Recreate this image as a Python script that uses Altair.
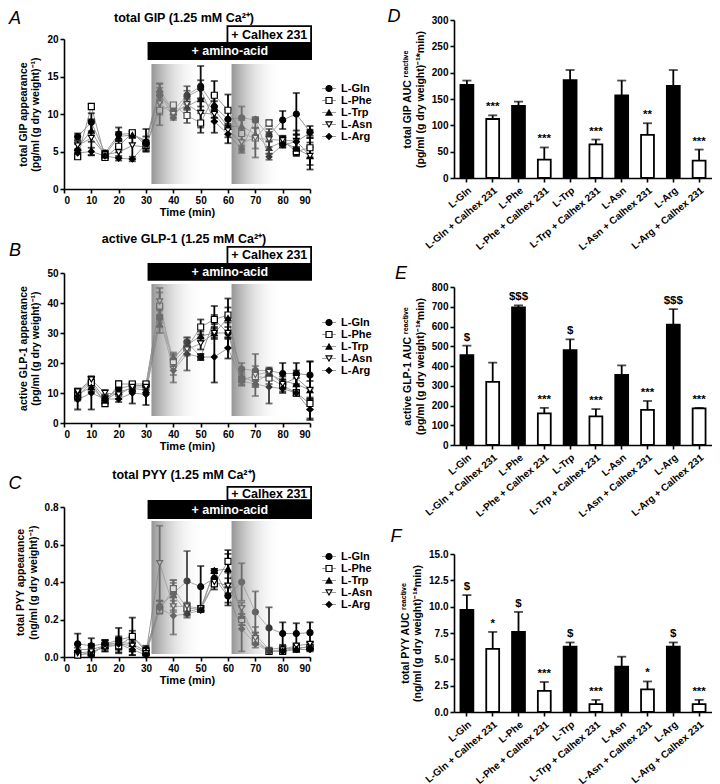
import altair as alt
import pandas as pd

FONT = "Liberation Sans"

TIME = [5, 10, 15, 20, 25, 30, 35, 40, 45, 50, 55, 60, 65, 70, 75, 80, 85, 90]
SERIES = ["L-Gln", "L-Phe", "L-Trp", "L-Asn", "L-Arg"]
SHAPES = ["circle", "square", "triangle-up", "triangle-down", "diamond"]
FILLS = ["black", "white", "black", "white", "black"]
SIZES = [36, 34, 24, 32, 36]

# treatment periods (min)
AMINO_START, CALHEX_START, PERIOD_END = 30.9, 59.8, 90.4
SHADE_START = [32.0, 61.3]
SHADE_END = [61.3, 90.0]

# ---- A: total GIP (pg/ml (g dry weight)^-1) ----
gip_gln = [7.0, 8.9, 4.8, 7.3, 7.4, 6.2, 12.5, 10.5, 12.5, 13.7, 11.0, 9.3, 9.5, 9.2, 7.2, 9.2, 10.0, 7.6]
gip_gln_sem = [0.4, 1.2, 0.3, 0.9, 0.3, 0.8, 1.0, 0.4, 1.2, 2.7, 1.5, 1.3, 1.5, 0.3, 0.8, 1.2, 2.8, 0.8]
gip_phe = [4.3, 11.0, 4.2, 5.7, 7.5, 5.8, 10.5, 11.2, 9.8, 8.8, 12.5, 10.5, 7.4, 6.8, 8.8, 6.4, 5.0, 5.5]
gip_phe_sem = [0.3, 0.4, 0.3, 0.8, 0.3, 0.6, 2.0, 0.3, 1.0, 1.3, 1.9, 2.1, 1.8, 2.6, 0.4, 0.6, 0.6, 1.3]
gip_trp = [5.5, 7.8, 4.5, 7.0, 7.2, 6.5, 13.3, 10.3, 11.0, 12.0, 10.6, 8.3, 8.4, 7.3, 5.5, 6.3, 5.4, 4.4]
gip_trp_sem = [0.5, 1.5, 0.3, 0.6, 0.4, 1.5, 0.8, 0.4, 0.9, 1.5, 1.1, 1.0, 1.2, 0.8, 0.8, 0.7, 0.9, 1.8]
gip_asn = [5.8, 6.8, 4.6, 4.9, 5.8, 5.6, 11.4, 10.0, 11.3, 10.1, 10.0, 7.8, 6.2, 6.8, 6.6, 6.5, 6.4, 4.4]
gip_asn_sem = [0.6, 2.3, 0.4, 0.7, 1.8, 0.6, 1.5, 0.5, 0.8, 1.9, 1.0, 0.9, 1.2, 1.4, 1.0, 0.6, 0.9, 1.2]
gip_arg = [4.8, 5.0, 4.4, 4.1, 4.0, 6.0, 13.0, 9.5, 12.3, 13.3, 9.0, 7.3, 5.3, 9.3, 4.3, 5.9, 6.3, 7.5]
gip_arg_sem = [0.5, 0.5, 0.3, 0.3, 0.3, 0.5, 1.0, 0.3, 0.8, 1.2, 1.5, 1.2, 0.5, 0.3, 0.4, 0.4, 1.5, 0.4]

# ---- B: active GLP-1 ----
glp_gln = [10, 14, 8, 11.5, 12.5, 12.5, 35, 21, 27, 22, 34.5, 30, 18, 17.5, 17.5, 16.5, 16.5, 16]
glp_gln_sem = [1, 1.2, 1.5, 1.5, 1, 1, 3, 2, 1.5, 1, 4.5, 5, 2, 1.5, 1, 3.5, 3.5, 4.5]
glp_phe = [9, 13.5, 6.5, 13, 13, 13, 39, 20.5, 25, 32, 34.5, 36, 14.5, 15.5, 15, 12.5, 10, 6.5]
glp_phe_sem = [1.5, 1.5, 1, 1, 0.8, 0.8, 4.5, 2, 2, 2.5, 1.5, 2.5, 2, 1.5, 2, 2, 1, 2]
glp_trp = [9.5, 12, 7.5, 10.5, 11.5, 11, 33, 22, 26, 29, 30, 35, 15.5, 13.5, 16.5, 14, 13, 11]
glp_trp_sem = [1, 1.5, 1, 1, 1, 1, 3, 1.5, 1.5, 1.5, 2, 6.5, 1.5, 1.5, 1, 1.5, 2, 3]
glp_asn = [10.5, 14.5, 10, 9.5, 12, 12, 40.5, 18, 24.5, 26.5, 30, 30, 14, 16, 17, 13, 15, 11]
glp_asn_sem = [1, 1, 1, 1.5, 1, 1, 4.5, 2, 2, 2, 1.5, 2, 1.5, 7, 1, 1.5, 2.5, 9.5]
glp_arg = [7.8, 10, 8, 8, 10, 9.5, 35.5, 17.5, 23, 22, 22, 25, 14, 13, 12, 11.5, 10, 4.5]
glp_arg_sem = [3.3, 5.5, 1, 1, 3.5, 3.5, 2, 4, 5.5, 1, 8.5, 3.5, 1, 1, 5.5, 1.5, 0.8, 3.5]

# ---- C: total PYY ----
pyy_gln = [0.07, 0.06, 0.07, 0.09, 0.11, 0.04, 0.27, 0.34, 0.405, 0.375, 0.42, 0.325, 0.40, 0.24, 0.155, 0.125, 0.125, 0.13]
pyy_gln_sem = [0.055, 0.04, 0.02, 0.065, 0.1, 0.02, 0.03, 0.07, 0.16, 0.11, 0.04, 0.05, 0.1, 0.11, 0.11, 0.06, 0.055, 0.055]
pyy_phe = [0.01, 0.02, 0.06, 0.06, 0.11, 0.03, 0.25, 0.365, 0.26, 0.255, 0.39, 0.51, 0.20, 0.085, 0.03, 0.03, 0.05, 0.05]
pyy_phe_sem = [0.01, 0.01, 0.03, 0.04, 0.03, 0.02, 0.02, 0.03, 0.02, 0.01, 0.03, 0.06, 0.03, 0.02, 0.01, 0.01, 0.01, 0.01]
pyy_trp = [0.04, 0.04, 0.06, 0.08, 0.07, 0.03, 0.28, 0.33, 0.24, 0.26, 0.46, 0.47, 0.22, 0.12, 0.04, 0.05, 0.04, 0.06]
pyy_trp_sem = [0.03, 0.03, 0.02, 0.03, 0.04, 0.02, 0.02, 0.08, 0.02, 0.01, 0.01, 0.08, 0.05, 0.04, 0.01, 0.01, 0.01, 0.02]
pyy_asn = [0.02, 0.03, 0.05, 0.07, 0.06, 0.02, 0.5, 0.27, 0.27, 0.26, 0.40, 0.38, 0.26, 0.10, 0.03, 0.04, 0.06, 0.07]
pyy_asn_sem = [0.01, 0.02, 0.02, 0.03, 0.03, 0.01, 0.2, 0.03, 0.02, 0.01, 0.02, 0.04, 0.03, 0.03, 0.01, 0.01, 0.01, 0.01]
pyy_arg = [0.03, 0.01, 0.07, 0.07, 0.04, 0.01, 0.26, 0.22, 0.23, 0.25, 0.46, 0.33, 0.15, 0.07, 0.03, 0.03, 0.04, 0.04]
pyy_arg_sem = [0.02, 0.01, 0.02, 0.03, 0.03, 0.01, 0.01, 0.1, 0.02, 0.01, 0.01, 0.04, 0.12, 0.02, 0.01, 0.01, 0.01, 0.01]

# ---- AUC bar panels ----
LABELS = ["L-Gln", "L-Gln + Calhex 231", "L-Phe", "L-Phe + Calhex 231", "L-Trp",
          "L-Trp + Calhex 231", "L-Asn", "L-Asn + Calhex 231", "L-Arg", "L-Arg + Calhex 231"]
gip_auc = [177, 112, 137, 35, 186, 64, 157, 82, 175, 33]
gip_auc_sem = [8, 7, 8, 23, 19, 9, 28, 22, 30, 21]
gip_sig = ["", "***", "", "***", "", "***", "", "**", "", "***"]
glp_auc = [455, 320, 697, 160, 480, 145, 355, 178, 610, 185]
glp_auc_sem = [48, 97, 10, 28, 55, 37, 48, 45, 78, 3]
glp_sig = ["$", "", "$$$", "***", "$", "***", "", "***", "$$$", "***"]
pyy_auc = [9.7, 6.0, 7.6, 2.0, 6.2, 0.75, 4.3, 2.15, 6.2, 0.75]
pyy_auc_sem = [1.4, 1.6, 1.9, 0.85, 0.4, 0.4, 0.95, 0.75, 0.4, 0.4]
pyy_sig = ["$", "*", "$", "***", "$", "***", "", "*", "$", "***"]

LW, LH = 246, 150
BW, BH = 258, 158

SHADE_FILL = {
    "gradient": "linear", "x1": 0, "y1": 0, "x2": 1, "y2": 0,
    "stops": [
        {"offset": 0, "color": "rgba(125,125,125,0.82)"},
        {"offset": 0.3, "color": "rgba(200,200,200,0.5)"},
        {"offset": 0.65, "color": "rgba(255,255,255,0)"},
    ],
}


def line_panel(letter, title, ymax, ystep, yfmt, ytitle, means, sems,
               calhex_y, amino_y, shade_y, letter_y, title_y):
    rows = []
    for s, m, e in zip(SERIES, means, sems):
        for t, mv, ev in zip(TIME, m, e):
            rows.append({"series": s, "t": t, "mean": mv, "lo": mv - ev, "hi": mv + ev})
    df = pd.DataFrame(rows)

    xs = alt.Scale(domain=[0, 90], nice=False)
    ys = alt.Scale(domain=[0, ymax], nice=False)
    xax = alt.Axis(values=list(range(0, 91, 10)), title="Time (min)", format="d",
                   titleFontSize=11, titlePadding=1)
    nt = round(ymax / ystep)
    yax = alt.Axis(values=[round(i * ystep, 4) for i in range(nt + 1)], format=yfmt,
                   title=ytitle, titlePadding=6)

    def X(f):
        return alt.X(f, type="quantitative", scale=xs, axis=xax)

    def Y(f):
        return alt.Y(f, type="quantitative", scale=ys, axis=yax)

    shape = alt.Shape("series:N", scale=alt.Scale(domain=SERIES, range=SHAPES), legend=None)
    fill = alt.Color("series:N", scale=alt.Scale(domain=SERIES, range=FILLS), legend=None)
    size = alt.Size("series:N", scale=alt.Scale(domain=SERIES, range=SIZES), legend=None)

    base = alt.Chart(df)
    lines = base.mark_line(color="#9a9a9a", strokeWidth=1).encode(
        x=X("t"), y=Y("mean"), detail="series:N")
    err = base.mark_rule(color="black", strokeWidth=1.8).encode(
        x=X("t"), y=Y("lo"), y2="hi")
    cap_lo = base.mark_tick(color="black", thickness=1.8, size=7, orient="horizontal").encode(
        x=X("t"), y=Y("lo"))
    cap_hi = base.mark_tick(color="black", thickness=1.8, size=7, orient="horizontal").encode(
        x=X("t"), y=Y("hi"))
    pts = base.mark_point(filled=True, stroke="black", strokeWidth=1.2, opacity=1).encode(
        x=X("t"), y=Y("mean"), shape=shape, color=fill, size=size)

    shade_df = pd.DataFrame({"x": SHADE_START, "x2": SHADE_END,
                             "y": [shade_y[0]] * 2, "y2": [shade_y[1]] * 2})
    shade = alt.Chart(shade_df).mark_rect(fill=SHADE_FILL, strokeWidth=0).encode(
        x=X("x"), x2="x2", y=Y("y"), y2="y2")

    calhex_df = pd.DataFrame({"x": [CALHEX_START], "x2": [PERIOD_END],
                              "y": [calhex_y[0]], "y2": [calhex_y[1]],
                              "xm": [(CALHEX_START + PERIOD_END) / 2], "ym": [sum(calhex_y) / 2],
                              "label": ["+ Calhex 231"]})
    amino_df = pd.DataFrame({"x": [AMINO_START], "x2": [PERIOD_END],
                             "y": [amino_y[0]], "y2": [amino_y[1]],
                             "xm": [(AMINO_START + PERIOD_END) / 2], "ym": [sum(amino_y) / 2],
                             "label": ["+ amino-acid"]})
    calhex_box = alt.Chart(calhex_df).mark_rect(fill="white", stroke="black", strokeWidth=1.8).encode(
        x=X("x"), x2="x2", y=Y("y"), y2="y2")
    calhex_txt = alt.Chart(calhex_df).mark_text(font=FONT, fontWeight="bold", fontSize=12.5,
                                                baseline="middle", color="black").encode(
        x=X("xm"), y=Y("ym"), text="label:N")
    amino_box = alt.Chart(amino_df).mark_rect(fill="black", stroke="black", strokeWidth=1.8).encode(
        x=X("x"), x2="x2", y=Y("y"), y2="y2")
    amino_txt = alt.Chart(amino_df).mark_text(font=FONT, fontWeight="bold", fontSize=12.5,
                                              baseline="middle", color="white").encode(
        x=X("xm"), y=Y("ym"), text="label:N")

    leg_df = pd.DataFrame({
        "series": SERIES,
        "y": [ymax * (1 - (49.5 + 12 * i) / LH) for i in range(len(SERIES))],
        "xl1": [90 * 258 / LW] * 5, "xl2": [90 * 272 / LW] * 5,
        "xm": [90 * 265 / LW] * 5, "xt": [90 * 277 / LW] * 5})
    leg_line = alt.Chart(leg_df).mark_rule(color="#9a9a9a", strokeWidth=1).encode(
        x=X("xl1"), x2="xl2", y=Y("y"))
    leg_pts = alt.Chart(leg_df).mark_point(filled=True, stroke="black", strokeWidth=1.2, opacity=1).encode(
        x=X("xm"), y=Y("y"), shape=shape, color=fill, size=size)
    leg_txt = alt.Chart(leg_df).mark_text(font=FONT, fontWeight="bold", fontSize=11, align="left",
                                          baseline="middle", color="black").encode(
        x=X("xt"), y=Y("y"), text="series:N")

    ann = pd.DataFrame({"a": [0]})
    title_mark = alt.Chart(ann).mark_text(text=title, font=FONT, fontWeight="bold", fontSize=12.5,
                                          color="black", baseline="middle").encode(
        x=alt.value(120), y=alt.value(title_y))
    letter_mark = alt.Chart(ann).mark_text(text=letter, font=FONT, fontStyle="italic", fontSize=18,
                                           color="black", baseline="middle").encode(
        x=alt.value(-49), y=alt.value(letter_y))

    return alt.layer(lines, err, cap_lo, cap_hi, pts, shade, calhex_box, calhex_txt,
                     amino_box, amino_txt, leg_line, leg_pts, leg_txt,
                     title_mark, letter_mark).properties(width=LW, height=LH)


def bar_panel(letter, vals, sems, sigs, ymax, ystep, yfmt, ytitle, letter_xy):
    df = pd.DataFrame({"label": LABELS, "v": vals,
                       "hi": [v + e for v, e in zip(vals, sems)], "sig": sigs,
                       "kind": ["cx" if "Calhex" in l else "aa" for l in LABELS]})
    xs = alt.Scale(domain=LABELS, paddingInner=0.5, paddingOuter=0.25)
    ys = alt.Scale(domain=[0, ymax], nice=False)
    nt = round(ymax / ystep)
    xax = alt.Axis(title=None, labelAngle=320, labelFontSize=10, labelPadding=3, tickSize=4)
    yax = alt.Axis(values=[round(i * ystep, 4) for i in range(nt + 1)], format=yfmt,
                   title=ytitle, titlePadding=6)

    def X():
        return alt.X("label:N", sort=LABELS, scale=xs, axis=xax)

    def Y(f):
        return alt.Y(f, type="quantitative", scale=ys, axis=yax)

    base = alt.Chart(df)
    bars = base.mark_bar(stroke="black", strokeWidth=1.8).encode(
        x=X(), y=Y("v"),
        color=alt.Color("kind:N", scale=alt.Scale(domain=["aa", "cx"], range=["black", "white"]), legend=None))
    err = base.mark_rule(color="black", strokeWidth=1.8).encode(x=X(), y=Y("v"), y2="hi")
    cap = base.mark_tick(color="black", thickness=1.8, size=9).encode(x=X(), y=Y("hi"))
    sig = base.mark_text(font=FONT, fontWeight="bold", fontSize=11.5, baseline="bottom",
                         dy=-3, color="black").encode(x=X(), y=Y("hi"), text="sig:N")
    ann = pd.DataFrame({"a": [0]})
    letter_mark = alt.Chart(ann).mark_text(text=letter, font=FONT, fontStyle="italic", fontSize=18,
                                           color="black", baseline="middle").encode(
        x=alt.value(letter_xy[0]), y=alt.value(letter_xy[1]))
    return alt.layer(bars, err, cap, sig, letter_mark).properties(width=BW, height=BH)


A = line_panel("A", "total  GIP (1.25 mM Ca²⁺)", 20, 5, "d",
               ["total GIP appearance", "(pg/ml (g dry weight)⁻¹)"],
               [gip_gln, gip_phe, gip_trp, gip_asn, gip_arg],
               [gip_gln_sem, gip_phe_sem, gip_trp_sem, gip_asn_sem, gip_arg_sem],
               (21.73, 19.47), (19.47, 17.33), (16.67, 0.67), -20, -21)
B = line_panel("B", "active GLP-1 (1.25 mM Ca²⁺)", 50, 10, "d",
               ["active GLP-1 appearance", "(pg/ml (g dry weight)⁻¹)"],
               [glp_gln, glp_phe, glp_trp, glp_asn, glp_arg],
               [glp_gln_sem, glp_phe_sem, glp_trp_sem, glp_asn_sem, glp_arg_sem],
               (58.7, 53.0), (53.0, 47.7), (46.3, 2.3), -22, -34)
C = line_panel("C", "total  PYY (1.25 mM Ca²⁺)", 0.8, 0.2, ".1f",
               ["total PYY appearance", "(ng/ml (g dry weight)⁻¹)"],
               [pyy_gln, pyy_phe, pyy_trp, pyy_asn, pyy_arg],
               [pyy_gln_sem, pyy_phe_sem, pyy_trp_sem, pyy_asn_sem, pyy_arg_sem],
               (0.907, 0.837), (0.832, 0.741), (0.725, 0.016), -23, -32)

D = bar_panel("D", gip_auc, gip_auc_sem, gip_sig, 300, 50, "d",
              ["total GIP AUC ʳᵉᵃᶜᵗⁱᵛᵉ", "(pg/ml (g dry weight)⁻¹*min)"], (-60, -3))
E = bar_panel("E", glp_auc, glp_auc_sem, glp_sig, 800, 100, "d",
              ["active GLP-1 AUC ʳᵉᵃᶜᵗⁱᵛᵉ", "(pg/ml (g dry weight)⁻¹*min)"], (-53, -13))
F = bar_panel("F", pyy_auc, pyy_auc_sem, pyy_sig, 15, 2.5, ".1f",
              ["total PYY AUC ʳᵉᵃᶜᵗⁱᵛᵉ", "(ng/ml (g dry weight)⁻¹*min)"], (-58, -17))

spacer = alt.Chart(pd.DataFrame({"v": [0]})).mark_point(opacity=0).encode(
    x=alt.X("v:Q", axis=None), y=alt.Y("v:Q", axis=None)).properties(width=LW, height=19)

left = alt.vconcat(spacer, alt.vconcat(A, B, C, spacing=84, bounds="flush"), spacing=0, bounds="flush")
right = alt.vconcat(D, E, F, spacing=109, bounds="flush")

# nested flush columns count as zero width, so the gap includes the left plot width
chart = alt.hconcat(left, right, spacing=LW + 144, bounds="flush", padding=0, background="white").configure_view(
    stroke=None
).configure_axis(
    domainColor="black", domainWidth=1.6, tickColor="black", tickWidth=1.6, tickSize=4,
    labelColor="black", labelFont=FONT, labelFontWeight="bold", labelFontSize=10,
    titleColor="black", titleFont=FONT, titleFontWeight="bold", titleFontSize=10.5,
    grid=False, labelPadding=2
)

chart.save("out.html", embed_options={"renderer": "svg", "actions": False})
